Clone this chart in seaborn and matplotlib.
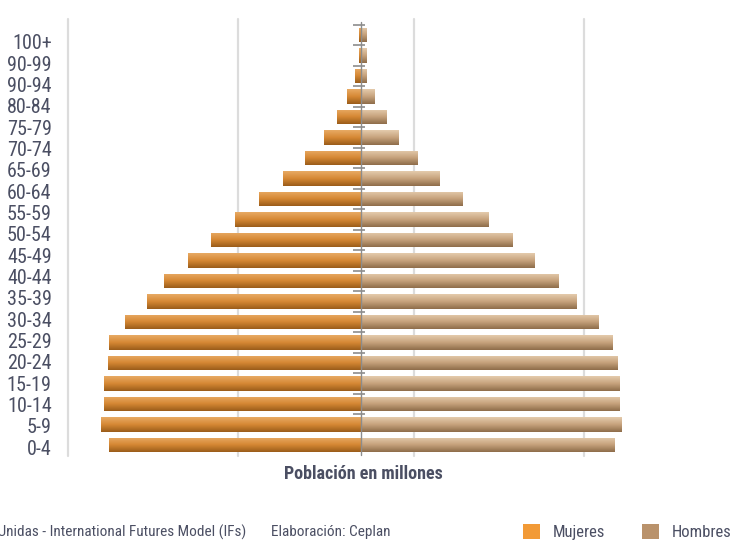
import numpy as np
import pandas as pd
import matplotlib
matplotlib.use("Agg")
import matplotlib.pyplot as plt
from matplotlib.colors import LinearSegmentedColormap
from matplotlib.patches import Patch
import seaborn as sns

# grupos de edad, de arriba hacia abajo (21 barras)
grupos = ["100+", "95-99", "90-94", "85-89", "80-84", "75-79", "70-74", "65-69",
          "60-64", "55-59", "50-54", "45-49", "40-44", "35-39", "30-34", "25-29",
          "20-24", "15-19", "10-14", "5-9", "0-4"]
# etiquetas tal como aparecen en el original (20)
etiquetas = ["100+", "90-99", "90-94", "80-84", "75-79", "70-74", "65-69", "60-64",
             "55-59", "50-54", "45-49", "40-44", "35-39", "30-34", "25-29", "20-24",
             "15-19", "10-14", "5-9", "0-4"]

# poblacion en millones (estimada del grafico)
mujeres = [0.012, 0.012, 0.035, 0.082, 0.14, 0.22, 0.33, 0.46, 0.60, 0.74, 0.88,
           1.02, 1.16, 1.26, 1.39, 1.48, 1.49, 1.51, 1.51, 1.53, 1.48]
hombres = [0.035, 0.035, 0.035, 0.082, 0.15, 0.22, 0.33, 0.46, 0.60, 0.75, 0.89,
           1.02, 1.16, 1.27, 1.40, 1.48, 1.51, 1.52, 1.52, 1.53, 1.49]

df = pd.DataFrame({
    "grupo": grupos * 2,
    "sexo": ["Mujeres"] * len(grupos) + ["Hombres"] * len(grupos),
    "valor": [-v for v in mujeres] + hombres,
})

col_muj = "#D88B36"
col_hom = "#C8A47F"
txt = "#4B4F63"
font = ["Roboto Condensed", "Archivo Narrow", "PT Sans Narrow",
        "Liberation Sans Narrow", "DejaVu Sans"]

sns.set_style("white")
plt.rcParams["font.family"] = font

fig = plt.figure(figsize=(7.31, 5.41), dpi=100)
W, H = 731, 541
ax = fig.add_axes([60 / W, 1 - 460 / H, 640 / W, 445 / H])

sns.barplot(data=df, x="valor", y="grupo", hue="sexo", order=grupos,
            palette={"Mujeres": col_muj, "Hombres": col_hom},
            dodge=False, width=0.72, legend=False, ax=ax, zorder=3)

# degradado vertical en cada barra
cm_muj = LinearSegmentedColormap.from_list("m", ["#E8AA64", "#D68834", "#9A5C1A"])
cm_hom = LinearSegmentedColormap.from_list("h", ["#E4CBAC", "#C6A27C", "#8E6D4A"])
grad = np.linspace(0, 1, 64).reshape(-1, 1)
for bar in list(ax.patches):
    x0, y0 = bar.get_x(), bar.get_y()
    w, h = bar.get_width(), bar.get_height()
    cmap = cm_muj if min(x0, x0 + w) < -1e-9 else cm_hom
    im = ax.imshow(grad, extent=(x0, x0 + w, y0, y0 + h), origin="lower",
                   cmap=cmap, aspect="auto", zorder=3, interpolation="bilinear")
    im.set_clip_path(bar)
    bar.set_facecolor("none")
    bar.set_edgecolor("none")

ax.set_xlim(-301 / 170, 339 / 170)
ax.set_ylim(20 + 15 / 20.5, -20 / 20.5)

# lineas de guia verticales
for gx in [-1.724, -0.724, 0.312, 1.312]:
    ax.axvline(gx, ymin=0.01, ymax=0.99, color="#DCDCDC", lw=1.6, zorder=1)

# eje central con marcas entre barras
ax.axvline(0, ymin=0.012, ymax=0.985, color="#8C8C8C", lw=1.0, zorder=4)
ax.hlines(np.arange(len(grupos) - 1) - 0.5, -0.047, 0.024, color="#8C8C8C",
          lw=1.2, zorder=4)

ax.set_yticks(np.linspace(0.34, 20.1, len(etiquetas)))
ax.set_yticklabels(etiquetas)
ax.tick_params(axis="y", length=0, pad=6, labelsize=14.5, labelcolor=txt)
ax.set_xticks([])
ax.set_xlabel("")
ax.set_ylabel("")
for s in ax.spines.values():
    s.set_visible(False)

fig.text(363 / W, 1 - 474 / H, "Población en millones", ha="center", va="center",
         fontsize=13, fontweight="bold", color=txt)

fig.text(246 / W, 1 - 532 / H, "Fuente: Naciones Unidas - International Futures Model (IFs)",
         ha="right", va="center", fontsize=11, color=txt)
fig.text(271 / W, 1 - 532 / H, "Elaboración: Ceplan", ha="left", va="center",
         fontsize=11, color=txt)

handles = [Patch(facecolor="#F29A36", edgecolor="none"),
           Patch(facecolor="#B9926B", edgecolor="none")]
fig.legend(handles, ["Mujeres", "Hombres"], loc="center left",
           bbox_to_anchor=(523 / W, 1 - 532 / H), ncol=2, frameon=False,
           fontsize=12, handlelength=1.0, handleheight=1.0, handletextpad=0.8,
           columnspacing=2.2, labelcolor=txt, borderpad=0, borderaxespad=0)

fig.savefig("out.png", dpi=100)
